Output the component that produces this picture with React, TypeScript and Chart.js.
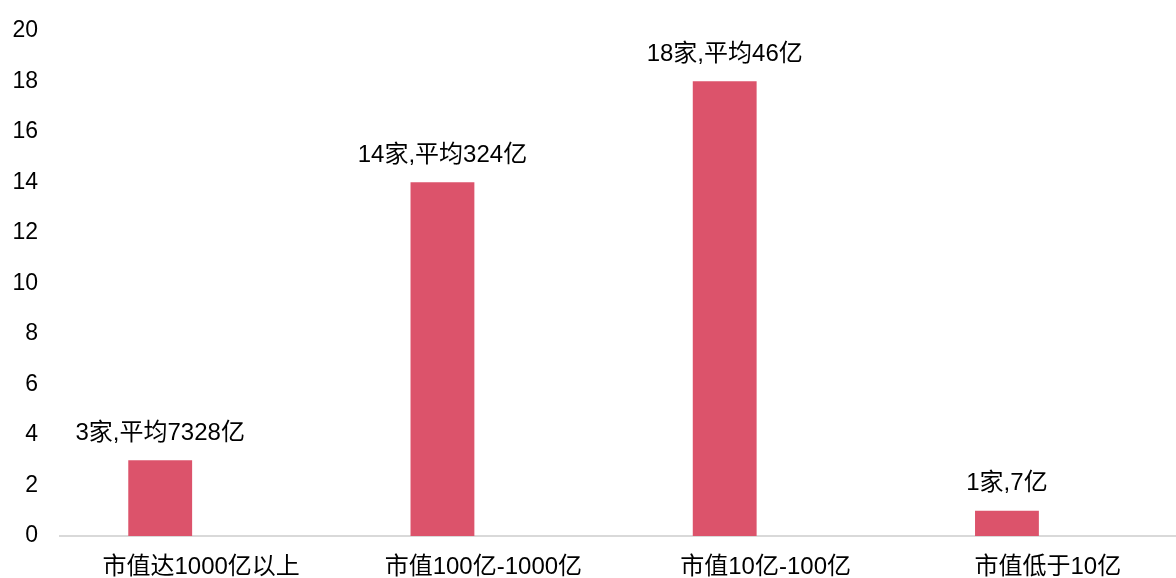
import React, { useEffect, useRef } from "react";
import { Chart, registerables } from "chart.js";

Chart.register(...registerables);

const categories = ["市值达1000亿以上", "市值100亿-1000亿", "市值10亿-100亿", "市值低于10亿"];
const counts = [3, 14, 18, 1];
const barLabels = ["3家,平均7328亿", "14家,平均324亿", "18家,平均46亿", "1家,7亿"];
const yTicks = [0, 2, 4, 6, 8, 10, 12, 14, 16, 18, 20];

const FONT = "'Liberation Sans', Arial, 'Noto Sans CJK SC', sans-serif";

const labelPlugin = {
  id: "barLabels",
  afterDatasetsDraw(chart: any) {
    const ctx = chart.ctx;
    const meta = chart.getDatasetMeta(0);
    ctx.save();
    ctx.font = `24px ${FONT}`;
    ctx.fillStyle = "#000000";
    ctx.textAlign = "center";
    ctx.textBaseline = "middle";
    meta.data.forEach((bar: any, i: number) => {
      ctx.fillText(barLabels[i], bar.x, bar.y - 27);
    });
    ctx.restore();
  },
};

export default function App() {
  const ref = useRef<HTMLCanvasElement>(null);
  useEffect(() => {
    document.body.style.margin = "0";
    document.body.style.overflow = "hidden";
    const chart = new Chart(ref.current!, {
      type: "bar",
      data: {
        labels: categories,
        datasets: [
          {
            data: counts,
            backgroundColor: "#DC536B",
            borderWidth: 0,
            barPercentage: 0.78,
            categoryPercentage: 0.58,
          },
          {
            data: counts.map(() => null),
            backgroundColor: "rgba(0,0,0,0)",
            barPercentage: 0.78,
            categoryPercentage: 0.58,
          },
        ],
      },
      options: {
        responsive: false,
        animation: false,
        layout: { padding: { top: 10, left: 0, right: 1, bottom: 0 } },
        plugins: { legend: { display: false }, tooltip: { enabled: false } },
        scales: {
          x: {
            grid: { display: false, drawTicks: false },
            border: { display: true, color: "#D9D9D9", width: 2 },
            ticks: {
              color: "#000000",
              font: { size: 24, family: FONT },
              padding: 17,
              maxRotation: 0,
              autoSkip: false,
            },
            afterFit: (s: any) => {
              s.height = 42;
            },
          },
          y: {
            min: 0,
            max: 20,
            afterBuildTicks: (s: any) => {
              s.ticks = yTicks.map((v) => ({ value: v }));
            },
            grid: { display: false, drawTicks: false },
            border: { display: false },
            ticks: {
              color: "#000000",
              font: { size: 23, family: FONT },
              padding: 22,
            },
            afterFit: (s: any) => {
              s.width = 60;
            },
          },
        },
      },
      plugins: [labelPlugin],
    });
    return () => chart.destroy();
  }, []);
  return (
    <div style={{ width: 1176, height: 578, overflow: "hidden", background: "#fff" }}>
      <canvas
        ref={ref}
        width={1190}
        height={583}
        style={{ width: 1190, height: 583, display: "block", marginTop: -5 }}
      />
    </div>
  );
}
